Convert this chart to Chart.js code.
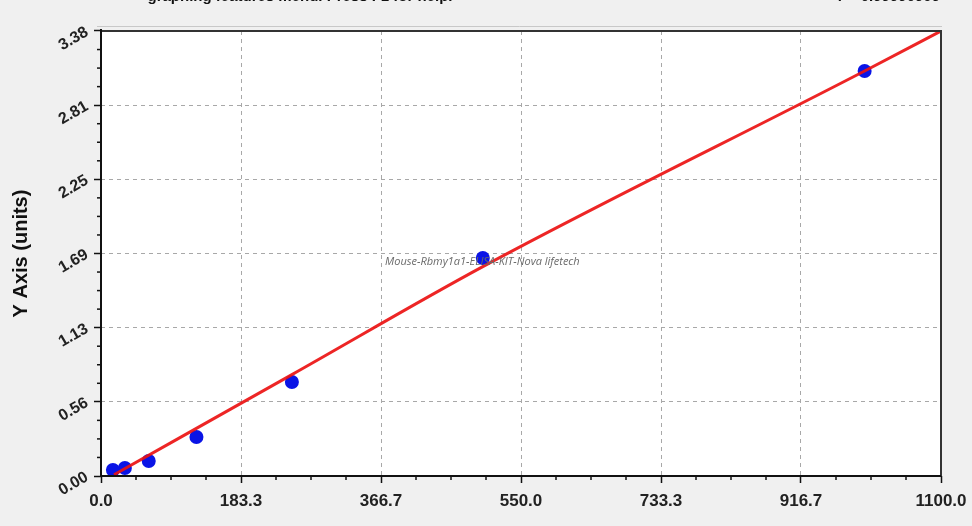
<!DOCTYPE html>
<html>
<head>
<meta charset="utf-8">
<script src="https://cdn.jsdelivr.net/npm/chart.js@4/dist/chart.umd.min.js"></script>
<style>
html,body{margin:0;padding:0;background:#f0f0f0;}
#wrap{width:972px;height:526px;position:relative;}
</style>
</head>
<body>
<div id="wrap"><canvas id="c" width="972" height="526"></canvas></div>
<script>
// ---- data ----
const concentrations = [15.6, 31.25, 62.5, 125, 250, 500, 1000];
const odValues       = [0.046, 0.061, 0.114, 0.296, 0.714, 1.656, 3.076];
const curveX         = [17, 250, 500, 1000, 1100];
const curveY         = [0.01, 0.77, 1.59, 3.076, 3.38];
const xTickLabels    = ['0.0','183.3','366.7','550.0','733.3','916.7','1100.0'];
const yTickLabels    = ['0.00','0.56','1.13','1.69','2.25','2.81','3.38'];
const xMax = 1100, yMax = 3.38;
const yTitle = 'Y Axis (units)';
const topText = 'graphing features menu. Press F1 for help.';
const rText = 'r = 0.99990909';
const watermark = 'Mouse-Rbmy1a1-ELISA-KIT-Nova lifetech';

const FONT = '"Liberation Sans", Arial, sans-serif';
const nMajor = xTickLabels.length - 1;

const extras = {
  id: 'extras',
  beforeDraw(chart) {
    const {ctx, chartArea: a} = chart;
    ctx.save();
    ctx.fillStyle = '#f0f0f0';
    ctx.fillRect(0, 0, chart.width, chart.height);
    ctx.fillStyle = '#ffffff';
    ctx.fillRect(a.left, a.top, a.right - a.left, a.bottom - a.top);
    ctx.restore();
  },
  afterDraw(chart) {
    const {ctx, chartArea: a, scales: {x, y}} = chart;
    ctx.save();
    // minor ticks
    ctx.strokeStyle = '#111';
    ctx.lineWidth = 1.5;
    for (let i = 0; i <= nMajor * 4; i++) {
      if (i % 4 === 0) continue;
      const px = x.getPixelForValue(i * xMax / (nMajor * 4));
      ctx.beginPath(); ctx.moveTo(px, a.bottom); ctx.lineTo(px, a.bottom + 4); ctx.stroke();
      const py = y.getPixelForValue(i * yMax / (nMajor * 4));
      ctx.beginPath(); ctx.moveTo(a.left, py); ctx.lineTo(a.left - 4, py); ctx.stroke();
    }
    // frame
    ctx.strokeStyle = '#c8c8c8';
    ctx.lineWidth = 1;
    ctx.beginPath(); ctx.moveTo(a.left - 4, a.top - 4.5); ctx.lineTo(a.right + 1, a.top - 4.5); ctx.stroke();
    ctx.strokeStyle = '#333';
    ctx.lineWidth = 2;
    ctx.beginPath();
    ctx.moveTo(a.left, a.top); ctx.lineTo(a.right, a.top); ctx.lineTo(a.right, a.bottom);
    ctx.stroke();
    ctx.strokeStyle = '#111';
    ctx.beginPath();
    ctx.moveTo(a.left, a.top - 2); ctx.lineTo(a.left, a.bottom); ctx.lineTo(a.right, a.bottom);
    ctx.stroke();
    // watermark
    ctx.font = 'italic 11px "Open Sans", "Liberation Sans", sans-serif';
    ctx.fillStyle = '#6a6a6a';
    ctx.textAlign = 'left';
    ctx.textBaseline = 'middle';
    ctx.fillText(watermark, x.getPixelForValue(372), y.getPixelForValue(1.625));
    // top texts (cut by the window top)
    ctx.font = 'bold 15px ' + FONT;
    ctx.fillStyle = '#111';
    ctx.textBaseline = 'alphabetic';
    ctx.textAlign = 'center';
    ctx.fillText(topText, 300, 1);
    ctx.textAlign = 'right';
    ctx.fillText(rText, 940, 1);
    ctx.restore();
  }
};

new Chart(document.getElementById('c'), {
  type: 'scatter',
  data: {
    datasets: [
      {
        type: 'line',
        data: curveX.map((v, i) => ({x: v, y: curveY[i]})),
        borderColor: 'rgba(235,18,18,0.92)',
        borderWidth: 3,
        pointRadius: 0,
        fill: false,
        tension: 0.3,
        cubicInterpolationMode: 'monotone'
      },
      {
        data: concentrations.map((v, i) => ({x: v, y: odValues[i]})),
        backgroundColor: '#0a14e6',
        borderColor: '#0a14e6',
        pointRadius: 7,
        borderWidth: 0
      }
    ]
  },
  options: {
    responsive: false,
    animation: false,
    devicePixelRatio: 1,
    layout: {padding: {top: 31, right: 31, left: 9, bottom: 0}},
    plugins: {legend: {display: false}, tooltip: {enabled: false}},
    scales: {
      x: {
        type: 'linear', min: 0, max: xMax,
        afterBuildTicks(s) { s.ticks = xTickLabels.map((l, i) => ({value: i * xMax / nMajor, label: l})); },
        afterFit(s) { s.height = 50; s.paddingLeft = 0; s.paddingRight = 0; },
        ticks: {
          callback: (v, i) => xTickLabels[i],
          font: {family: FONT, size: 17, weight: 'bold'},
          color: '#222', padding: 8, maxRotation: 0, minRotation: 0
        },
        grid: {
          color: (c) => (c.index === 0 || c.index === nMajor) ? 'rgba(0,0,0,0)' : '#a8a8a8',
          lineWidth: 1, tickLength: 7, tickColor: '#111', tickWidth: 1.5
        },
        border: {display: false, dash: [4, 4]}
      },
      y: {
        type: 'linear', min: 0, max: yMax,
        afterBuildTicks(s) { s.ticks = yTickLabels.map((l, i) => ({value: i * yMax / nMajor, label: l})); },
        afterFit(s) { s.width = 92; s.paddingTop = 0; s.paddingBottom = 0; },
        ticks: {
          callback: (v, i) => yTickLabels[i],
          font: {family: FONT, size: 16, weight: 'bold'},
          color: '#222', padding: 7, minRotation: 30, maxRotation: 30
        },
        title: {
          display: true, text: yTitle,
          font: {family: FONT, size: 20, weight: 'bold'},
          color: '#111', padding: {top: 0, bottom: 0}
        },
        grid: {
          color: (c) => (c.index === 0 || c.index === nMajor) ? 'rgba(0,0,0,0)' : '#a8a8a8',
          lineWidth: 1, tickLength: 7, tickColor: '#111', tickWidth: 1.5
        },
        border: {display: false, dash: [4, 4]}
      }
    }
  },
  plugins: [extras]
});
</script>
</body>
</html>
